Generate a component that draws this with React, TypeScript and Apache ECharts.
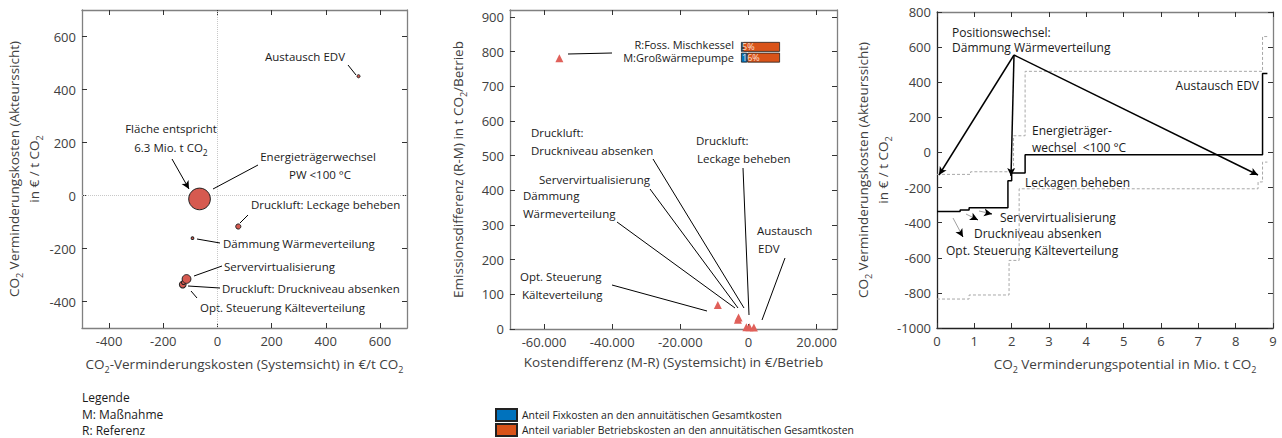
import React, { useEffect, useRef } from 'react';
import * as echarts from 'echarts';

// ---------------- data ----------------
const measures = [
  'Opt. Steuerung Kälteverteilung',
  'Druckluft: Druckniveau absenken',
  'Servervirtualisierung',
  'Dämmung Wärmeverteilung',
  'Druckluft: Leckage beheben',
  'Energieträgerwechsel PW <100 °C',
  'Austausch EDV',
];
// €/t CO2, system view
const systemCost = [-128, -125, -114, -92, 77, -66, 521];
// €/t CO2, actor view
const actorCost = [-336, -328, -315, -161, -117, -13, 450];
// Mio. t CO2
const potential = [0.62, 0.24, 1.04, 0.1, 0.36, 6.36, 0.13];
// €/Betrieb (M-R)
const costDiff = [-9000, -600, -3100, -2900, 300, -55500, 1600];
// t CO2/Betrieb (R-M)
const emissionDiff = [69, 5, 27, 33, 5, 781, 4];
// share of fixed costs in annuity total costs (%)
const shareRows = ['R', 'M'];
const fixShare = [5, 16];
// upper / lower bound step curves (right panel)
const upperBreaks = [0, 0.9, 2.05, 2.36, 8.72, 8.85];
const upperCost = [-125, -110, 95, 462, 660];
const lowerBreaks = [0, 0.86, 1.93, 2.2, 8.6, 8.72, 8.85];
const lowerCost = [-835, -812, -615, -207, -168, -55];
// tick values
const leftTicks = [-400, -200, 0, 200, 400, 600];
const midXTicks = [-60000, -40000, -20000, 0, 20000];
const midYTicks = [0, 100, 200, 300, 400, 500, 600, 700, 800, 900];
const rightXTicks = [0, 1, 2, 3, 4, 5, 6, 7, 8, 9];
const rightYTicks = [-1000, -800, -600, -400, -200, 0, 200, 400, 600, 800];

// ---------------- layout ----------------
const FONT = "'Open Sans', sans-serif";
const TXT = '#404040';
const grids = [
  { left: 82, top: 10, width: 325, height: 318 },
  { left: 510, top: 10, width: 327, height: 319 },
  { left: 937, top: 12, width: 336, height: 316 },
  { left: 741, top: 41.5, width: 39, height: 21.5 },
];
const ranges = [
  { x: [-500, 700], y: [-500, 700] },
  { x: [-70000, 26000], y: [0, 920] },
  { x: [0, 9], y: [-1000, 800] },
];

const px2d = (g: number, px: number, py: number) => {
  const gr = grids[g];
  const r = ranges[g];
  return [
    r.x[0] + ((px - gr.left) / gr.width) * (r.x[1] - r.x[0]),
    r.y[1] - ((py - gr.top) / gr.height) * (r.y[1] - r.y[0]),
  ];
};

const subRich = {
  sub: { fontSize: 9, verticalAlign: 'bottom', lineHeight: 20, fontFamily: FONT, color: TXT },
};

const deFmt = (v: number) => {
  if (v === 0) return '0';
  const s = String(Math.abs(v)).replace(/\B(?=(\d{3})+(?!\d))/g, '.');
  return (v < 0 ? '-' : '') + s;
};

function valAxis(
  gridIndex: number,
  range: number[],
  ticks: number[],
  position: string,
  showLabel: boolean,
  color: string,
  extra: any = {}
) {
  return {
    type: 'value',
    gridIndex,
    position,
    min: range[0],
    max: range[1],
    axisLine: { show: true, onZero: false, lineStyle: { color, width: 1.3 } },
    axisTick: { show: true, inside: true, length: 5, customValues: ticks, lineStyle: { color: '#333' } },
    axisLabel: {
      show: showLabel,
      customValues: ticks,
      color: TXT,
      fontSize: 13,
      fontFamily: FONT,
      margin: 6,
      formatter: (v: number) => String(v),
    },
    splitLine: { show: false },
    ...extra,
  };
}

const seg = (g: number, a: number[], b: number[], arrow = false, color = '#000', width = 1) => [
  { coord: px2d(g, a[0], a[1]), symbol: 'none', lineStyle: { color, width, type: 'solid' } },
  { coord: px2d(g, b[0], b[1]), symbol: arrow ? 'arrow' : 'none', lineStyle: { color, width, type: 'solid' } },
];

const markBase = {
  silent: true,
  animation: false,
  label: { show: false },
  emphasis: { disabled: true },
  symbolSize: [6, 8],
};

function stepPoints(breaks: number[], vals: number[]) {
  const pts: number[][] = [];
  for (let i = 0; i < vals.length; i++) pts.push([breaks[i], vals[i]]);
  pts.push([breaks[vals.length], vals[vals.length - 1]]);
  return pts;
}

function actorStep() {
  const b: number[] = [0];
  potential.forEach((p) => b.push(+(b[b.length - 1] + p).toFixed(3)));
  return stepPoints(b, actorCost);
}

const txt = (text: string, x: number, y: number, align = 'left', size = 11.5, color = '#1a1a1a') => {
  const hasSub = text.indexOf('{sub|') >= 0;
  return {
    type: 'text',
    x,
    y,
    silent: true,
    style: {
      text,
      fill: color,
      fontSize: size,
      fontFamily: FONT,
      align,
      verticalAlign: 'middle',
      lineHeight: hasSub ? 20 : size,
      rich: hasSub
        ? { sub: { fontSize: 8.5, verticalAlign: 'bottom', lineHeight: 20, fontFamily: FONT, fill: color } }
        : undefined,
    },
  };
};

const option: any = {
  animation: false,
  textStyle: { fontFamily: FONT },
  grid: grids.map((g) => ({ ...g, containLabel: false })),
  legend: {
    left: 495,
    top: 408,
    orient: 'vertical',
    icon: 'rect',
    padding: 0,
    itemWidth: 21,
    itemHeight: 12,
    itemGap: 1,
    selectedMode: false,
    textStyle: { fontSize: 10.4, color: '#222', fontFamily: FONT },
    data: [
      'Anteil Fixkosten an den annuitätischen Gesamtkosten',
      'Anteil variabler Betriebskosten an den annuitätischen Gesamtkosten',
    ],
  },
  xAxis: [
    valAxis(0, ranges[0].x, leftTicks, 'bottom', true, '#808080', {
      name: 'CO{sub|2}-Verminderungskosten (Systemsicht) in €/t CO{sub|2}',
      nameLocation: 'middle',
      nameGap: 26,
      nameTextStyle: { fontSize: 13.5, color: TXT, fontFamily: FONT, lineHeight: 20, rich: subRich },
    }),
    valAxis(0, ranges[0].x, leftTicks, 'top', false, '#808080'),
    valAxis(1, ranges[1].x, midXTicks, 'bottom', true, '#808080', {
      axisLabel: {
        show: true,
        customValues: midXTicks,
        color: TXT,
        fontSize: 13,
        fontFamily: FONT,
        margin: 6,
        formatter: (v: number) => deFmt(v),
      },
      name: 'Kostendifferenz (M-R) (Systemsicht) in €/Betrieb',
      nameLocation: 'middle',
      nameGap: 26,
      nameTextStyle: { fontSize: 13.5, color: TXT, fontFamily: FONT },
    }),
    valAxis(1, ranges[1].x, midXTicks, 'top', false, '#808080'),
    valAxis(2, ranges[2].x, rightXTicks, 'bottom', true, '#222', {
      name: 'CO{sub|2} Verminderungspotential in Mio. t CO{sub|2}',
      nameLocation: 'middle',
      nameGap: 26,
      nameTextStyle: {
        fontSize: 13.5,
        color: TXT,
        fontFamily: FONT,
        lineHeight: 20,
        rich: subRich,
        padding: [0, 0, 0, 40],
      },
    }),
    valAxis(2, ranges[2].x, rightXTicks, 'top', false, '#808080'),
    { type: 'value', gridIndex: 3, min: 0, max: 100, show: false },
  ],
  yAxis: [
    valAxis(0, ranges[0].y, leftTicks, 'left', true, '#808080', {
      name: 'CO{sub|2} Verminderungskosten (Akteurssicht)\nin € / t CO{sub|2}',
      nameLocation: 'middle',
      nameRotate: 90,
      nameGap: 38,
      nameTextStyle: { fontSize: 13.5, color: TXT, fontFamily: FONT, lineHeight: 19, rich: subRich },
    }),
    valAxis(0, ranges[0].y, leftTicks, 'right', false, '#808080'),
    valAxis(1, ranges[1].y, midYTicks, 'left', true, '#808080', {
      name: 'Emissionsdifferenz (R-M) in t CO{sub|2}/Betrieb',
      nameLocation: 'middle',
      nameRotate: 90,
      nameGap: 42,
      nameTextStyle: { fontSize: 13.5, color: TXT, fontFamily: FONT, lineHeight: 20, rich: subRich },
    }),
    valAxis(1, ranges[1].y, midYTicks, 'right', false, '#808080'),
    valAxis(2, ranges[2].y, rightYTicks, 'left', true, '#222', {
      name: 'CO{sub|2} Verminderungskosten (Akteurssicht)\nin € / t CO{sub|2}',
      nameLocation: 'middle',
      nameRotate: 90,
      nameGap: 31,
      nameTextStyle: { fontSize: 13.5, color: TXT, fontFamily: FONT, lineHeight: 17, rich: subRich },
    }),
    valAxis(2, ranges[2].y, rightYTicks, 'right', false, '#808080'),
    { type: 'category', gridIndex: 3, data: shareRows, inverse: true, show: false },
  ],
  series: [
    // left panel: zero lines
    {
      type: 'line',
      xAxisIndex: 0,
      yAxisIndex: 0,
      data: [],
      markLine: {
        ...markBase,
        symbol: 'none',
        lineStyle: { color: '#c8c8c8', type: 'dotted', width: 1 },
        data: [{ xAxis: 0 }, { yAxis: 0 }],
      },
    },
    // left panel: bubbles
    {
      type: 'scatter',
      name: 'bubbles',
      xAxisIndex: 0,
      yAxisIndex: 0,
      z: 6,
      data: measures.map((m, i) => ({ name: m, value: [systemCost[i], actorCost[i], potential[i]] })),
      symbolSize: (v: number[]) => 8.6 * Math.sqrt(v[2]),
      itemStyle: { color: '#d65a50', borderColor: '#222', borderWidth: 1, opacity: 1 },
      markLine: {
        ...markBase,
        lineStyle: { color: '#000', width: 1, type: 'solid' },
        data: [
          seg(0, [348, 65], [356, 75]),
          seg(0, [172, 159], [189, 189], true),
          seg(0, [258, 165], [213, 189]),
          seg(0, [248, 215], [240, 223]),
          seg(0, [197, 239], [220, 243]),
          seg(0, [222, 266], [194, 276]),
          seg(0, [188, 286], [220, 288]),
          seg(0, [191, 291], [197, 298]),
        ],
      },
    },
    // middle panel: triangles
    {
      type: 'scatter',
      name: 'triangles',
      xAxisIndex: 2,
      yAxisIndex: 2,
      z: 6,
      symbol: 'triangle',
      symbolSize: 8,
      data: measures.map((m, i) => ({ name: m, value: [costDiff[i], emissionDiff[i]] })),
      itemStyle: { color: '#e0605a', opacity: 1 },
      markLine: {
        ...markBase,
        lineStyle: { color: '#000', width: 1, type: 'solid' },
        data: [
          seg(1, [568, 54], [612, 53]),
          seg(1, [612, 285], [707, 311]),
          seg(1, [617, 222], [735, 308]),
          seg(1, [650, 189], [738, 308]),
          seg(1, [653, 159], [744, 308]),
          seg(1, [743, 168], [749, 315]),
          seg(1, [785, 258], [762, 320]),
        ],
      },
    },
    // right panel: bounds
    {
      type: 'line',
      name: 'upper',
      xAxisIndex: 4,
      yAxisIndex: 4,
      step: 'end',
      showSymbol: false,
      data: stepPoints(upperBreaks, upperCost),
      lineStyle: { color: '#a8a8a8', width: 1, type: [3, 2] },
    },
    {
      type: 'line',
      name: 'lower',
      xAxisIndex: 4,
      yAxisIndex: 4,
      step: 'end',
      showSymbol: false,
      data: stepPoints(lowerBreaks, lowerCost),
      lineStyle: { color: '#a8a8a8', width: 1, type: [3, 2] },
    },
    // right panel: actor view MACC
    {
      type: 'line',
      name: 'actor',
      xAxisIndex: 4,
      yAxisIndex: 4,
      step: 'end',
      showSymbol: false,
      z: 4,
      data: actorStep(),
      lineStyle: { color: '#000', width: 1.5 },
      markLine: {
        ...markBase,
        lineStyle: { color: '#000', width: 1.5, type: 'solid' },
        data: [
          seg(2, [1014, 55], [939, 175], true, '#000', 1.5),
          seg(2, [1014, 55], [1011, 176], true, '#000', 1.5),
          seg(2, [1014, 55], [1258, 175], true, '#000', 1.5),
          seg(2, [979, 211], [988, 213], false, '#888', 0.8),
          seg(2, [987, 213], [992, 214], true, '#000', 1),
          seg(2, [966, 214], [975, 218.5], false, '#888', 0.8),
          seg(2, [974, 218], [978, 220], true, '#000', 1),
          seg(2, [953, 218], [961, 233], false, '#888', 0.8),
          seg(2, [960, 232], [963, 237], true, '#000', 1),
        ],
      },
    },
    // mini bars: share of fixed / variable costs
    {
      type: 'bar',
      name: 'Anteil Fixkosten an den annuitätischen Gesamtkosten',
      xAxisIndex: 6,
      yAxisIndex: 6,
      stack: 'share',
      barCategoryGap: '8%',
      data: fixShare,
      itemStyle: { color: '#0072bd', borderColor: '#222', borderWidth: 0.8 },
      label: {
        show: true,
        position: 'insideLeft',
        distance: 1,
        formatter: '{c}%',
        color: '#fbe0d4',
        fontSize: 9,
        lineHeight: 9,
        fontFamily: FONT,
      },
      z: 3,
    },
    {
      type: 'bar',
      name: 'Anteil variabler Betriebskosten an den annuitätischen Gesamtkosten',
      xAxisIndex: 6,
      yAxisIndex: 6,
      stack: 'share',
      barCategoryGap: '8%',
      data: fixShare.map((f) => 100 - f),
      itemStyle: { color: '#d95319', borderColor: '#222', borderWidth: 0.8 },
      z: 2,
    },
  ],
  graphic: [
    // left panel annotations
    txt('Austausch EDV', 305, 56, 'center'),
    txt('Fläche entspricht', 171, 128, 'center'),
    txt('6.3 Mio. t CO{sub|2}', 171, 147, 'center'),
    txt('Energieträgerwechsel', 318, 156, 'center'),
    txt('PW <100 °C', 320, 174, 'center'),
    txt('Druckluft: Leckage beheben', 251, 204),
    txt('Dämmung Wärmeverteilung', 223, 243),
    txt('Servervirtualisierung', 224, 266),
    txt('Druckluft: Druckniveau absenken', 222, 288),
    txt('Opt. Steuerung Kälteverteilung', 200, 307),
    txt('Legende', 82, 397, 'left', 12),
    txt('M: Maßnahme', 82, 414, 'left', 12),
    txt('R: Referenz', 82, 430, 'left', 12),
    // middle panel annotations
    txt('R:Foss. Mischkessel', 734, 44.5, 'right', 11),
    txt('M:Großwärmepumpe', 734, 57.5, 'right', 11),
    txt('Druckluft:', 531, 132),
    txt('Druckniveau absenken', 531, 150),
    txt('Druckluft:', 696, 140),
    txt('Leckage beheben', 697, 158),
    txt('Servervirtualisierung', 539, 179),
    txt('Dämmung', 523, 195),
    txt('Wärmeverteilung', 523, 213),
    txt('Austausch', 757, 230),
    txt('EDV', 758, 248),
    txt('Opt. Steuerung', 520, 276),
    txt('Kälteverteilung', 522, 294),
    // right panel annotations
    txt('Positionswechsel:', 952, 32, 'left', 12),
    txt('Dämmung Wärmeverteilung', 952, 47, 'left', 12),
    txt('Energieträger-', 1032, 130, 'left', 12),
    txt('wechsel  <100 °C', 1032, 147, 'left', 12),
    txt('Leckagen beheben', 1025, 182, 'left', 12),
    txt('Servervirtualisierung', 1000, 217, 'left', 12),
    txt('Druckniveau absenken', 974, 233, 'left', 12),
    txt('Opt. Steuerung Kälteverteilung', 946, 250, 'left', 12),
    txt('Austausch EDV', 1259, 85, 'right', 12),
  ],
};

export default function App() {
  const ref = useRef<HTMLDivElement>(null);
  useEffect(() => {
    const chart = echarts.init(ref.current!, null, { renderer: 'svg' });
    chart.setOption(option);
    return () => chart.dispose();
  }, []);
  return (
    <div
      ref={ref}
      style={{ position: 'fixed', left: 0, top: 0, width: 1282, height: 438, background: '#fff' }}
    />
  );
}
